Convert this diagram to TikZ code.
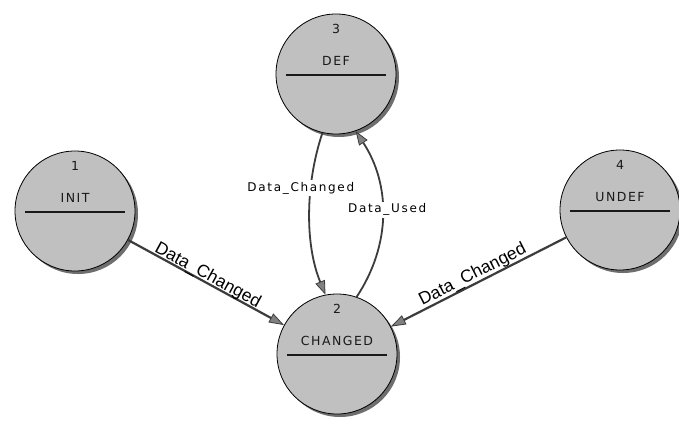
\documentclass[tikz,border=0pt]{standalone}
\usepackage{fontspec}
\setmainfont{DejaVu Sans}
\newfontfamily\spacedfont[LetterSpace=12]{DejaVu Sans}
\newfontfamily\labelfont[LetterSpace=14]{DejaVu Sans}
\newfontfamily\slopedfont{Liberation Sans}
\usetikzlibrary{arrows.meta,shadows}
\definecolor{statefill}{RGB}{192,192,192}
\definecolor{shadowgray}{RGB}{110,110,110}
\definecolor{edgegray}{RGB}{60,60,60}
\definecolor{tipgray}{RGB}{128,128,128}
\definecolor{textgray}{RGB}{25,25,25}
\begin{document}
\begin{tikzpicture}[x=1pt,y=-1pt,
  statecircle/.style={circle, draw=black, line width=0.8pt, fill=statefill,
    minimum size=120pt, inner sep=0pt,
    drop shadow={shadow xshift=3pt, shadow yshift=-3pt, fill=shadowgray, opacity=1}},
  statetext/.style={font=\spacedfont\fontsize{12.5}{14}\selectfont, text=textgray, inner sep=0pt},
  separator/.style={draw=textgray, line width=1.2pt},
  edge/.style={draw=edgegray, line width=2.2pt,
    -{Triangle[length=15pt,width=10pt,fill=tipgray,line width=0.8pt]}},
  curveedge/.style={draw=edgegray, line width=1.8pt,
    -{Triangle[length=14pt,width=10pt,fill=tipgray,line width=0.8pt]}},
  slopedlabel/.style={font=\slopedfont\fontsize{17.5}{20}\selectfont, text=black, sloped, inner sep=0pt},
  flatlabel/.style={font=\labelfont\fontsize{12}{14}\selectfont, text=black, fill=white, inner sep=2pt}
]
\useasboundingbox (0,0) rectangle (679,421);
\fill[white] (0,0) rectangle (679,421);

\node[statecircle] (init) at (75,211) {};
\node[statecircle] (def) at (336,74) {};
\node[statecircle] (changed) at (337,354) {};
\node[statecircle] (undef) at (620,210) {};

\foreach \s/\n/\t in {init/1/INIT, def/3/DEF, changed/2/CHANGED, undef/4/UNDEF} {
  \node[statetext] (\s-num) at ([yshift=45pt]\s.center) {\n};
  \node[statetext] (\s-name) at ([yshift=13pt]\s.center) {\t};
  \draw[separator] ([xshift=-50pt,yshift=-1pt]\s.center) -- ([xshift=50pt,yshift=-1pt]\s.center);
}

\draw[edge] (init) -- node[slopedlabel, pos=0.49, above=-2.5pt] (lab1) {Data\_Changed} (changed);
\draw[edge] (undef) -- node[slopedlabel, pos=0.51, above=-0.5pt] (lab4) {Data\_Changed} (changed);
\draw[curveedge] (def.257) .. controls (305,185) and (305,245) ..
  node[flatlabel, pos=0.34, xshift=-10pt] (lab3) {Data\_Changed} (changed.101);
\draw[curveedge] (changed.71) .. controls (391,245) and (391,185) ..
  node[flatlabel, pos=0.53, xshift=5pt] (lab2) {Data\_Used} (def.289);
\end{tikzpicture}
\end{document}
